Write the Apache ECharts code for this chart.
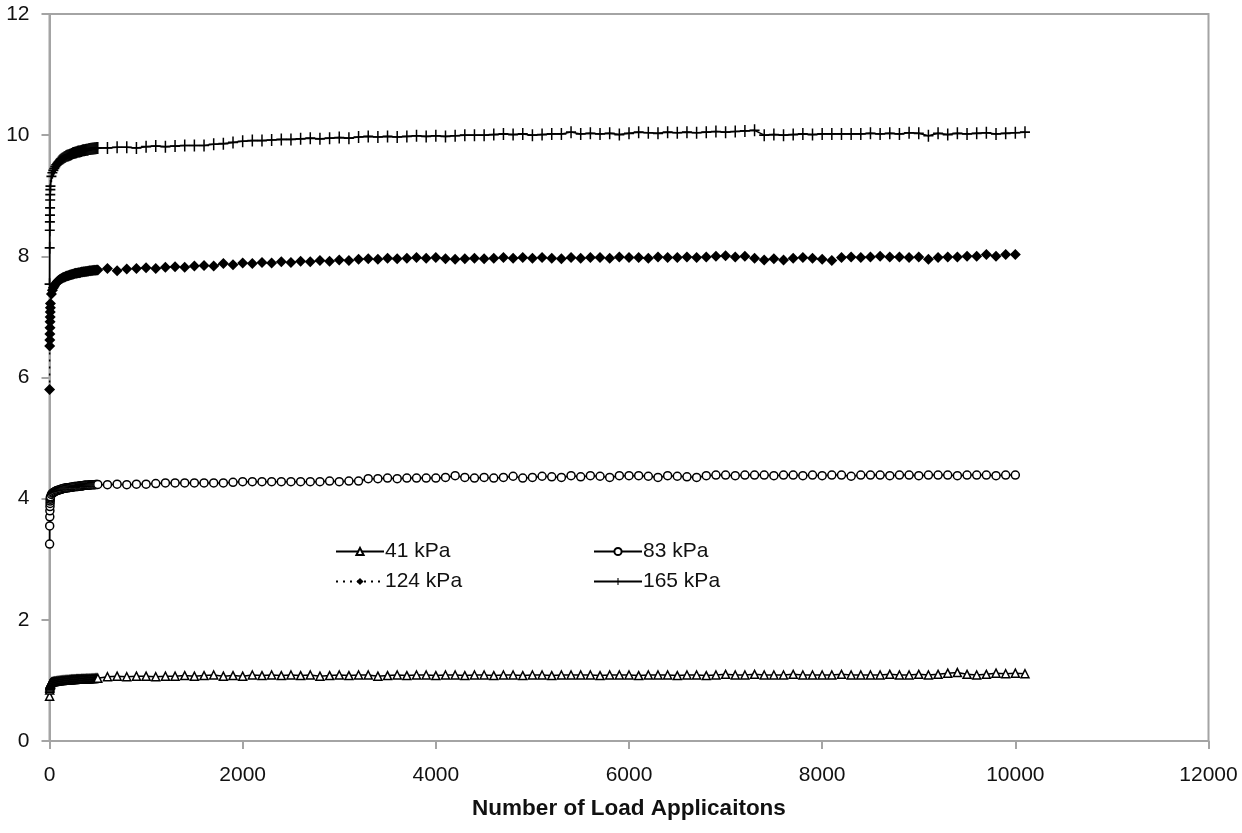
<!DOCTYPE html>
<html>
<head>
<meta charset="utf-8">
<script src="https://cdn.jsdelivr.net/npm/echarts@6/dist/echarts.min.js"></script>
<style>
html,body{margin:0;padding:0;background:#fff;}
#c{width:1242px;height:833px;}
</style>
</head>
<body>
<div id="c"></div>
<script>
// Load cycles: 1-10, then every 10 up to 500, then every 100 from 600 to 10100
const cycles = [1,2,3,4,5,6,7,8,9,10,
  20,30,40,50,60,70,80,90,100,110,
  120,130,140,150,160,170,180,190,200,210,
  220,230,240,250,260,270,280,290,300,310,
  320,330,340,350,360,370,380,390,400,410,
  420,430,440,450,460,470,480,490,500,
  600,700,800,900,1000,1100,1200,1300,1400,1500,
  1600,1700,1800,1900,2000,2100,2200,2300,2400,2500,
  2600,2700,2800,2900,3000,3100,3200,3300,3400,3500,
  3600,3700,3800,3900,4000,4100,4200,4300,4400,4500,
  4600,4700,4800,4900,5000,5100,5200,5300,5400,5500,
  5600,5700,5800,5900,6000,6100,6200,6300,6400,6500,
  6600,6700,6800,6900,7000,7100,7200,7300,7400,7500,
  7600,7700,7800,7900,8000,8100,8200,8300,8400,8500,
  8600,8700,8800,8900,9000,9100,9200,9300,9400,9500,
  9600,9700,9800,9900,10000,10100];

const s41 = [0.74,0.84,0.87,0.89,0.91,0.92,0.93,0.94,0.945,0.95,
  0.97,0.975,0.98,0.983,0.985,0.988,0.99,0.993,0.995,0.997,
  1.0,1.0,1.002,1.004,1.005,1.007,1.008,1.01,1.01,1.012,
  1.013,1.015,1.015,1.016,1.017,1.018,1.02,1.02,1.02,1.021,
  1.022,1.023,1.024,1.025,1.025,1.026,1.027,1.028,1.028,1.029,
  1.03,1.03,1.031,1.032,1.033,1.034,1.035,1.035,1.036,
  1.06,1.07,1.06,1.07,1.07,1.06,1.07,1.07,1.08,1.07,
  1.08,1.09,1.07,1.08,1.07,1.09,1.08,1.09,1.08,1.09,
  1.08,1.09,1.07,1.08,1.09,1.08,1.09,1.09,1.07,1.08,
  1.09,1.08,1.09,1.09,1.08,1.09,1.09,1.08,1.09,1.09,
  1.08,1.09,1.09,1.08,1.09,1.09,1.08,1.09,1.09,1.09,
  1.09,1.08,1.09,1.09,1.09,1.08,1.09,1.09,1.09,1.08,
  1.09,1.09,1.08,1.09,1.10,1.09,1.09,1.10,1.09,1.09,
  1.09,1.10,1.09,1.09,1.09,1.09,1.10,1.09,1.09,1.09,
  1.09,1.10,1.09,1.09,1.10,1.09,1.10,1.12,1.13,1.10,
  1.09,1.10,1.12,1.11,1.12,1.11];

const s83 = [3.25,3.55,3.70,3.80,3.87,3.92,3.96,3.99,4.01,4.03,
  4.07,4.09,4.10,4.11,4.12,4.13,4.135,4.14,4.145,4.15,
  4.155,4.16,4.165,4.17,4.17,4.175,4.18,4.18,4.18,4.185,
  4.19,4.19,4.19,4.195,4.20,4.20,4.20,4.20,4.205,4.21,
  4.21,4.21,4.21,4.215,4.22,4.22,4.22,4.22,4.22,4.225,
  4.225,4.23,4.23,4.23,4.23,4.23,4.235,4.235,4.235,
  4.23,4.24,4.23,4.24,4.24,4.25,4.26,4.26,4.26,4.26,
  4.26,4.26,4.26,4.27,4.28,4.28,4.28,4.28,4.28,4.28,
  4.28,4.28,4.28,4.29,4.28,4.29,4.29,4.33,4.33,4.34,
  4.33,4.34,4.34,4.34,4.34,4.35,4.38,4.35,4.34,4.35,
  4.34,4.35,4.37,4.34,4.35,4.37,4.36,4.35,4.38,4.36,
  4.38,4.37,4.35,4.38,4.38,4.38,4.37,4.35,4.38,4.37,
  4.36,4.35,4.38,4.39,4.39,4.38,4.39,4.39,4.39,4.38,
  4.39,4.39,4.38,4.39,4.38,4.39,4.39,4.37,4.39,4.39,
  4.39,4.38,4.39,4.39,4.38,4.39,4.39,4.39,4.38,4.39,
  4.39,4.39,4.38,4.39,4.39];

const s124 = [5.80,6.52,6.62,6.72,6.82,6.92,7.00,7.08,7.15,7.22,
  7.38,7.44,7.48,7.51,7.54,7.56,7.58,7.595,7.61,7.62,
  7.63,7.64,7.65,7.655,7.66,7.67,7.675,7.68,7.685,7.69,
  7.695,7.70,7.705,7.71,7.715,7.72,7.72,7.725,7.73,7.73,
  7.735,7.74,7.74,7.745,7.745,7.75,7.75,7.755,7.755,7.76,
  7.76,7.76,7.765,7.765,7.77,7.77,7.77,7.775,7.775,
  7.80,7.76,7.79,7.80,7.81,7.80,7.82,7.83,7.82,7.84,
  7.85,7.84,7.88,7.86,7.89,7.88,7.90,7.89,7.91,7.90,
  7.92,7.91,7.93,7.92,7.94,7.93,7.95,7.96,7.95,7.97,
  7.96,7.97,7.98,7.97,7.98,7.96,7.95,7.96,7.97,7.96,
  7.97,7.98,7.97,7.98,7.97,7.98,7.97,7.96,7.98,7.97,
  7.98,7.98,7.97,7.99,7.98,7.98,7.97,7.99,7.98,7.98,
  7.99,7.98,7.99,8.00,8.01,7.99,8.00,7.97,7.94,7.96,
  7.94,7.97,7.98,7.97,7.95,7.93,7.98,7.99,7.98,7.99,
  8.00,7.99,7.99,7.98,7.99,7.95,7.98,7.99,7.99,8.00,
  8.00,8.03,8.00,8.03,8.03];

const s165 = [7.54,8.14,8.43,8.57,8.68,8.80,8.93,9.02,9.10,9.16,
  9.32,9.38,9.42,9.45,9.48,9.51,9.53,9.55,9.57,9.585,
  9.60,9.61,9.62,9.63,9.64,9.65,9.66,9.665,9.67,9.675,
  9.68,9.69,9.70,9.705,9.71,9.715,9.72,9.725,9.73,9.73,
  9.735,9.74,9.745,9.75,9.75,9.755,9.76,9.76,9.765,9.77,
  9.77,9.775,9.775,9.78,9.78,9.785,9.785,9.79,9.79,
  9.79,9.80,9.80,9.79,9.81,9.82,9.81,9.82,9.83,9.83,
  9.83,9.85,9.86,9.88,9.90,9.91,9.91,9.92,9.93,9.93,
  9.94,9.95,9.94,9.95,9.96,9.95,9.97,9.98,9.97,9.98,
  9.97,9.98,9.99,9.98,9.99,9.98,9.99,10.00,10.00,10.00,
  10.01,10.02,10.01,10.02,10.00,10.01,10.02,10.02,10.05,10.02,
  10.03,10.02,10.03,10.01,10.03,10.05,10.04,10.03,10.05,10.04,
  10.05,10.04,10.05,10.06,10.05,10.06,10.07,10.08,10.00,10.01,
  10.00,10.01,10.02,10.01,10.02,10.02,10.02,10.02,10.02,10.03,
  10.02,10.03,10.02,10.04,10.03,9.99,10.03,10.01,10.03,10.02,
  10.03,10.04,10.02,10.03,10.04,10.05];

const seriesNames = ['41 kPa','83 kPa','124 kPa','165 kPa'];
const xTicks = {min:0, max:12000, interval:2000};
const yTicks = {min:0, max:12, interval:2};
const xTitle = 'Number of Load Applicaitons';

function pairs(vals){ return vals.map((v,i)=>[cycles[i], v]); }

const plusPath = 'path://M4.25,0 H5.75 V4.3 H10 V5.7 H5.75 V10 H4.25 V5.7 H0 V4.3 H4.25 Z';
const font = 'Liberation Sans, Arial, sans-serif';
const axisGray = '#a4a4a4';

const chart = echarts.init(document.getElementById('c'), null, {renderer:'canvas'});

function legendAt(name, left, top){
  return {
    data:[name], left:left, top:top, orient:'horizontal',
    itemWidth:48, itemHeight:9, itemGap:0, padding:0,
    textStyle:{fontFamily:font, fontSize:21, color:'#111', padding:[0,0,0,-4]},
    selectedMode:false
  };
}

chart.setOption({
  animation:false,
  backgroundColor:'#fff',
  grid:{left:49.5, right:33.5, top:14, bottom:92, show:true, borderColor:axisGray, borderWidth:2, containLabel:false},
  legend:[
    legendAt(seriesNames[0], 335, 541),
    legendAt(seriesNames[1], 593, 541),
    legendAt(seriesNames[2], 335, 571),
    legendAt(seriesNames[3], 593, 571)
  ],
  xAxis:{
    type:'value', min:xTicks.min, max:xTicks.max, interval:xTicks.interval,
    name:xTitle, nameLocation:'middle', nameGap:56,
    nameTextStyle:{fontFamily:font, fontSize:22.5, fontWeight:'bold', color:'#111'},
    axisLine:{show:true, lineStyle:{color:axisGray, width:2}},
    axisTick:{show:true, inside:false, length:8, lineStyle:{color:axisGray, width:2}},
    axisLabel:{fontFamily:font, fontSize:21, color:'#111', margin:24, formatter:function(v){return String(v);}},
    splitLine:{show:false}
  },
  yAxis:{
    type:'value', min:yTicks.min, max:yTicks.max, interval:yTicks.interval,
    axisLine:{show:true, lineStyle:{color:axisGray, width:2}},
    axisTick:{show:true, inside:false, length:8, lineStyle:{color:axisGray, width:2}},
    axisLabel:{fontFamily:font, fontSize:21, color:'#111', margin:20, formatter:function(v){return String(v);}},
    splitLine:{show:false}
  },
  series:[
    {name:seriesNames[0], type:'line', data:pairs(s41), symbol:'triangle', symbolSize:8,
     showAllSymbol:true, lineStyle:{color:'#000', width:1.5},
     itemStyle:{color:'#fff', borderColor:'#000', borderWidth:1.5}},
    {name:seriesNames[1], type:'line', data:pairs(s83), symbol:'circle', symbolSize:8,
     showAllSymbol:true, lineStyle:{color:'#000', width:1.5},
     itemStyle:{color:'#fff', borderColor:'#000', borderWidth:1.5}},
    {name:seriesNames[2], type:'line', data:pairs(s124), symbol:'diamond', symbolSize:11,
     showAllSymbol:true, lineStyle:{color:'#000', width:1.5, type:[2,5]},
     itemStyle:{color:'#000', borderColor:'#000', borderWidth:0}},
    {name:seriesNames[3], type:'line', data:pairs(s165), symbol:plusPath, symbolSize:[10,12],
     showAllSymbol:true, lineStyle:{color:'#000', width:1.5},
     itemStyle:{color:'#000', borderWidth:0}}
  ]
});
</script>
</body>
</html>
